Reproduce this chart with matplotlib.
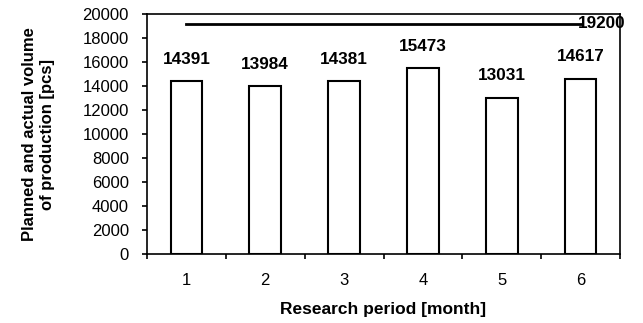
import matplotlib
matplotlib.use("Agg")
import matplotlib.pyplot as plt
import numpy as np

plt.rcParams['font.family'] = ['Liberation Sans', 'DejaVu Sans']

months = ["1", "2", "3", "4", "5", "6"]
actual = [14391, 13984, 14381, 15473, 13031, 14617]
planned = 19200

fig = plt.figure(figsize=(6.43, 3.23), dpi=100)
ax = fig.add_axes([147 / 643, 1 - 254 / 323, (620 - 147) / 643, (254 - 14) / 323])

x = np.arange(1, len(months) + 1)
ax.bar(x, actual, width=0.4, color="white", edgecolor="black", linewidth=1.5)
for xi, v in zip(x, actual):
    ax.annotate(str(v), (xi, v), xytext=(0, 10.5), textcoords="offset points",
                ha="center", va="bottom", fontsize=12.3, fontweight="bold")

ax.plot([x[0], x[-1]], [planned, planned], color="black", linewidth=2)
ax.text(x[-1] - 0.03, planned, str(planned), ha="left", va="center",
        fontsize=12.3, fontweight="bold")

ax.set_xlim(0.5, 6.5)
ax.set_ylim(0, 20000)
ax.set_yticks(np.arange(0, 20001, 2000))
ax.set_xticks(np.arange(0.5, 6.6, 1.0))
ax.set_xticklabels([])
ax.set_xticks(x, minor=True)
ax.set_xticklabels(months, minor=True)
ax.tick_params(axis="x", which="minor", length=0, pad=14, labelsize=12)
ax.tick_params(axis="x", which="major", length=3.6, width=1.2, direction="out")
ax.tick_params(axis="y", length=3.6, width=1.2, direction="out", labelsize=12, pad=9.5)
for s in ax.spines.values():
    s.set_linewidth(1.2)

ax.set_xlabel("Research period [month]", fontsize=12.5, fontweight="bold", labelpad=10)
ax.set_ylabel("Planned and actual volume\nof production [pcs]", fontsize=12,
              fontweight="bold", labelpad=20)

fig.savefig("out.png", dpi=100, facecolor="white")
